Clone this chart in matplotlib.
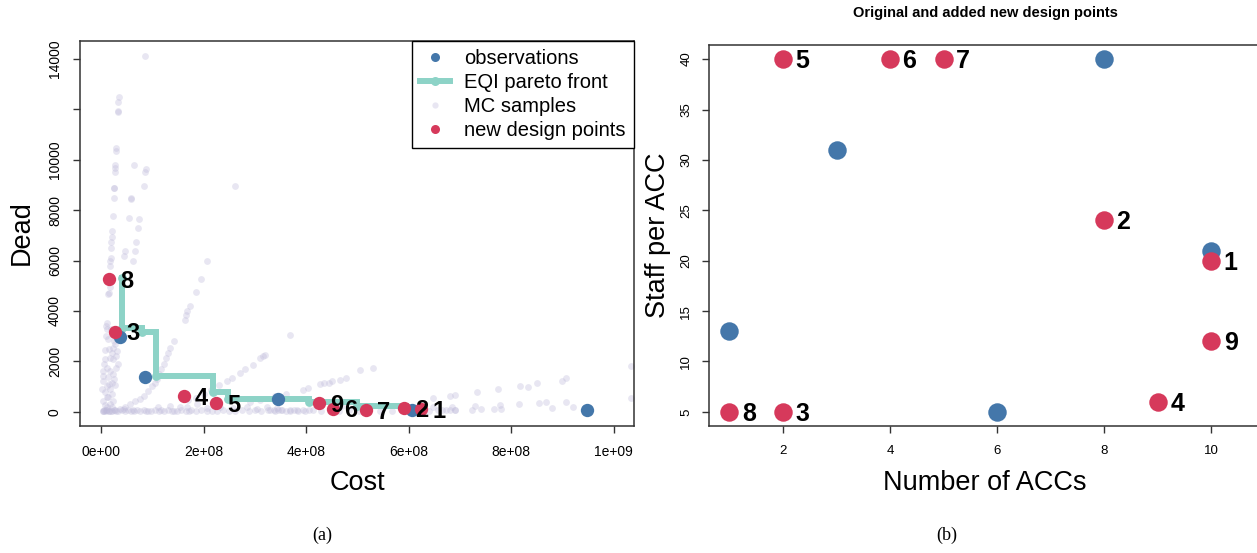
import matplotlib
matplotlib.use("Agg")
import matplotlib.pyplot as plt
from matplotlib.lines import Line2D
import numpy as np

plt.rcParams["font.family"] = ["Liberation Sans", "DejaVu Sans"]

# ---------------- data: panel (a) ----------------
# costs in millions, dead in persons
obs_cost = [37, 86.5, 346, 606, 948]
obs_dead = [2950, 1380, 510, 60, 70]

new_labels = ["1", "2", "3", "4", "5", "6", "7", "8", "9"]
new_cost = [625, 592, 27, 161, 224, 452, 517, 15.6, 426]
new_dead = [100, 132, 3175, 610, 345, 120, 55, 5270, 332]

front_cost = [40, 40, 80, 107, 219, 247, 405, 500, 595]
front_dead = [5300, 3315, 3150, 1430, 764, 495, 400, 210, 190]

mc_cost = [
    86, 35, 34, 34, 34, 30, 29, 28, 27, 27, 65, 87, 86, 26, 26, 83, 262, 25, 58, 58,
    23, 54, 74, 72, 21, 21, 20, 68, 20, 47, 66, 45, 19, 18, 62, 207, 18, 195, 185, 14,
    174, 168, 166, 164, 17, 16,
    142, 135, 131, 127, 122, 118, 114, 110, 105, 99, 92, 83, 76, 66, 57, 47, 37,
    11, 10, 11, 24, 27, 21, 18, 24, 8, 11, 4.5, 18, 24, 14, 4.5, 21, 11, 18, 8, 21,
    14, 4.5, 24, 18, 11, 4.5, 31, 29, 33, 30, 27, 25, 30, 9, 7, 6, 13, 16, 20, 3, 2,
    15, 26, 28, 12, 7, 22,
    170, 185, 200, 215, 230, 245, 255, 271, 281, 297, 310, 316, 320, 368,
    290, 310, 340, 360, 394, 403, 427, 436, 444, 451, 466, 478, 505, 531,
    647, 681, 691, 733, 775, 818, 834, 850, 899, 907, 1034,
    648, 658, 673, 685, 690, 723, 730, 741, 767, 779, 780, 816, 855, 868, 880, 907,
    920, 1034,
    112, 135, 154, 167, 187, 206, 232, 258, 284, 304, 323, 343,
    330, 338, 345, 352, 360, 368, 377, 385, 395, 405, 463, 470, 681, 690,
    5, 10, 16, 22, 28, 34, 40, 46, 52, 58, 64, 70, 77, 84, 91, 98, 106, 114, 122, 130,
    139, 148, 157, 166, 176, 186, 196, 206, 216, 226, 238, 250, 262, 275, 288, 300,
    313, 326, 340, 354, 368, 383, 398, 414, 430, 447, 465, 484, 503, 522, 545, 568,
    590, 615, 640, 665,
    3, 6, 9, 12, 15, 20, 25, 30, 44, 62, 88, 118, 143, 172,
]
mc_dead = [
    14100, 12470, 12290, 11920, 11890, 10470, 10340, 9780, 9670, 9515, 9780, 9635,
    9505, 8880, 8860, 8950, 8960, 8485, 8470, 8440,
    7760, 7670, 7655, 7275, 7170, 6940, 6730, 6745, 6480, 6375, 6390, 6180, 6110,
    5980, 5980, 5980, 5780, 5260, 4765, 4685,
    4200, 4000, 3830, 3645, 4950, 4720,
    2800, 2546, 2350, 2125, 1890, 1690, 1490, 1295, 1160, 1030, 830, 635, 525, 410,
    305, 170, 105,
    3540, 3405, 3275, 2546, 2680, 2350, 2150, 2085, 2085, 1755, 1625, 1625, 1490,
    1360, 1230, 1160, 1030, 900, 765, 700,
    565, 435, 435, 305, 170, 40, 2415, 2200, 1900, 1750, 2950, 2800, 3100, 3000,
    2450, 1900, 2900, 2500, 3300, 1400, 900,
    1100, 1300, 1050, 600, 250, 200,
    450, 560, 700, 850, 1080, 1230, 1330, 1555, 1690, 1850, 2125, 2200, 2270, 3040,
    400, 480, 620, 700, 860, 960, 1095, 1135, 1160, 1200, 1265, 1335, 1640, 1740,
    527, 605, 660, 765, 900, 1030, 990, 1160, 1230, 1320, 1820,
    170, 67, 67, 170, 67, 67, 238, 107, 107, 277, 107, 305, 345, 368, 130, 368,
    170, 527,
    170, 238, 198, 170, 305, 147, 170, 147, 170, 107, 198, 130,
    60, 55, 50, 58, 45, 62, 55, 48, 60, 70, 300, 230, 60, 55,
    30, 60, 20, 45, 70, 25, 50, 35, 80, 40, 20, 65, 30, 55, 25, 45, 75, 35, 20, 60,
    40, 30, 70, 25, 50, 35, 60, 20, 45, 30, 70, 40, 25, 55, 35, 65,
    30, 50, 20, 60, 40, 75, 30, 55, 25, 45, 35, 65, 20, 50, 40, 30,
    60, 45, 25, 50,
    20, 50, 10, 80, 35, 15, 60, 25, 90, 70, 40, 55, 30, 45,
]

# ---------------- data: panel (b) ----------------
obs_acc = [1, 3, 6, 8, 10]
obs_staff = [13, 31, 5, 40, 21]
new_acc = [10, 8, 2, 9, 2, 4, 5, 1, 10]
new_staff = [20, 24, 5, 6, 40, 40, 40, 5, 12]

xticks_a = [0, 2e8, 4e8, 6e8, 8e8, 1e9]
xticklabels_a = ["0e+00", "2e+08", "4e+08", "6e+08", "8e+08", "1e+09"]
yticks_a = [0, 2000, 4000, 6000, 8000, 10000, 12000, 14000]
yticklabels_a = ["0", "2000", "4000", "6000", "8000", "10000", "", "14000"]
xticks_b = [2, 4, 6, 8, 10]
yticks_b = [5, 10, 15, 20, 25, 30, 35, 40]

BLUE = "#4477AA"
RED = "#D6395B"
TEAL = "#8DD3C7"
LAV = "#BEBADA"
EDGE = "#333333"

W, H = 1257, 553
fig = plt.figure(figsize=(W / 100, H / 100), dpi=100)


def fx(px):
    return px / W


def fy(py):
    return 1 - py / H


ax1 = fig.add_axes([fx(80), fy(426), (634 - 80) / W, (426 - 41) / H])
ax2 = fig.add_axes([fx(709), fy(426), (1262 - 709) / W, (426 - 45) / H])

M = 1e6

# ---------------- panel (a) ----------------
ax1.scatter(np.array(mc_cost) * M, mc_dead, s=24, color=LAV, alpha=0.35,
            linewidths=0, zorder=1)
ax1.plot(np.array(front_cost) * M, front_dead, drawstyle="steps-post",
         color=TEAL, lw=4.3, zorder=2, solid_joinstyle="miter")
ax1.scatter(np.array(front_cost) * M, front_dead, s=40, color=TEAL,
            linewidths=0, zorder=2)
ax1.scatter(np.array(obs_cost) * M, obs_dead, s=92, color=BLUE, linewidths=0,
            zorder=3)
ax1.scatter(np.array(new_cost) * M, new_dead, s=92, color=RED, linewidths=0,
            zorder=4)
for lab, cx, cy in zip(new_labels, new_cost, new_dead):
    ax1.annotate(lab, (cx * M, cy), xytext=(8.0, -1.5), textcoords="offset points",
                 ha="left", va="center", fontsize=17, fontweight="bold", zorder=5)

ax1.set_xlim(-0.41e8, 10.4e8)
ax1.set_ylim(-566, 14712)
ax1.set_xticks(xticks_a)
ax1.set_xticklabels(xticklabels_a)
ax1.set_yticks(yticks_a)
ax1.set_yticklabels(yticklabels_a)

handles = [
    Line2D([], [], ls="none", marker="o", ms=6.5, color=BLUE, mew=0),
    Line2D([], [], color=TEAL, lw=4.3, marker="o", ms=6.5, mew=0),
    Line2D([], [], ls="none", marker="o", ms=4.5, color=LAV, alpha=0.35, mew=0),
    Line2D([], [], ls="none", marker="o", ms=6.5, color=RED, mew=0),
]
leg = ax1.legend(handles, ["observations", "EQI pareto front", "MC samples",
                           "new design points"],
                 loc="upper right", borderaxespad=0, fancybox=False,
                 framealpha=1, edgecolor="black", fontsize=14.5,
                 handlelength=1.5, handletextpad=0.7, labelspacing=0.25,
                 borderpad=0.4)
leg.get_frame().set_linewidth(1.0)
leg.set_zorder(10)

# ---------------- panel (b) ----------------
ax2.scatter(obs_acc, obs_staff, s=177, color=BLUE, linewidths=0, zorder=3)
ax2.scatter(new_acc, new_staff, s=177, color=RED, linewidths=0, zorder=4)
for lab, cx, cy in zip(new_labels, new_acc, new_staff):
    ax2.annotate(lab, (cx, cy), xytext=(9.0, -1.5), textcoords="offset points",
                 ha="left", va="center", fontsize=18, fontweight="bold",
                 zorder=5)
ax2.set_xlim(0.617, 10.95)
ax2.set_ylim(3.6, 41.4)
ax2.set_xticks(xticks_b)
ax2.set_yticks(yticks_b)

# ---------------- shared styling ----------------
for ax, fs, ypad in ((ax1, 10, 8), (ax2, 9.5, 7)):
    for sp in ax.spines.values():
        sp.set_color(EDGE)
        sp.set_linewidth(1.1)
    ax.tick_params(direction="out", length=5, width=1.0, color=EDGE,
                   labelsize=fs)
    ax.tick_params(axis="x", pad=9)
    ax.tick_params(axis="y", pad=ypad)
    for t in ax.get_yticklabels():
        t.set_rotation(90)
        t.set_va("center")
        t.set_ha("right")

fig.text(fx(22), fy(233), "Dead", rotation=90, ha="center", va="center",
         fontsize=19.5)
fig.text(fx(357), fy(483), "Cost", ha="center", va="center", fontsize=19.5)
fig.text(fx(658), fy(235), "Staff per ACC", rotation=90, ha="center",
         va="center", fontsize=19.5)
fig.text(fx(985), fy(483), "Number of ACCs", ha="center", va="center",
         fontsize=19.5)
fig.text(fx(985), fy(13), "Original and added new design points", ha="center",
         va="center", fontsize=10.5, fontweight="bold")
fig.text(fx(322), fy(535), "(a)", ha="center", va="center", fontsize=13,
         family="Liberation Serif")
fig.text(fx(947), fy(535), "(b)", ha="center", va="center", fontsize=13,
         family="Liberation Serif")

fig.savefig("out.png", dpi=100)
